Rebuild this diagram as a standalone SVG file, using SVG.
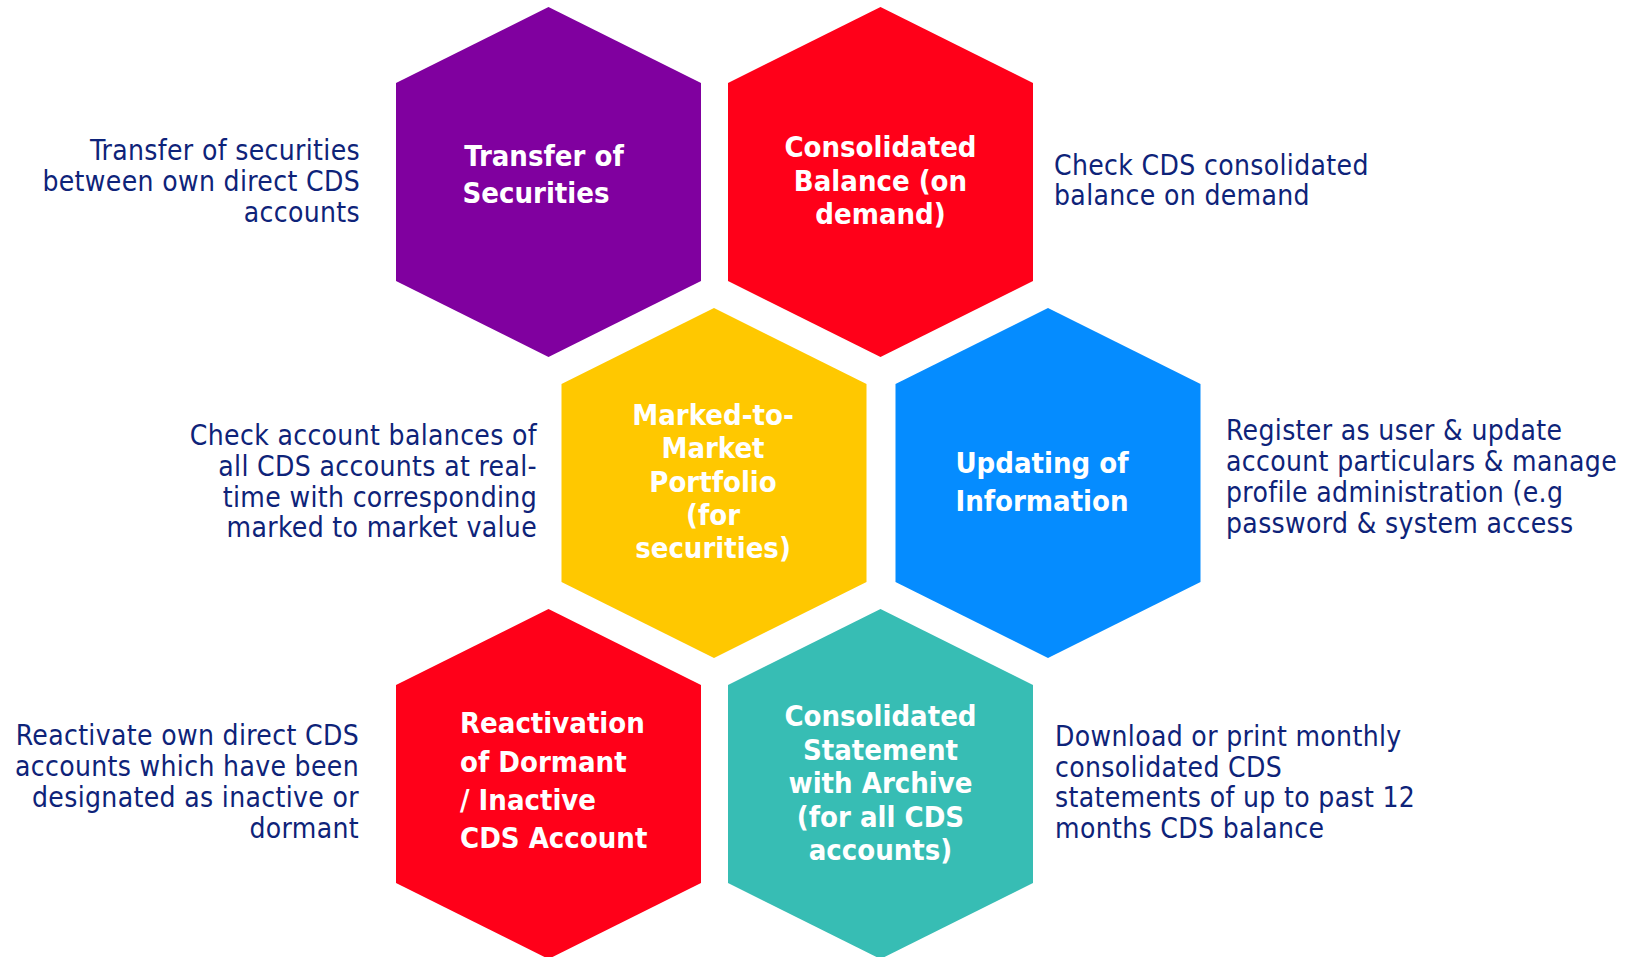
<svg xmlns="http://www.w3.org/2000/svg" xmlns:xlink="http://www.w3.org/1999/xlink" width="1632" height="957" viewBox="0 0 1632 957">
<style>
.desc{font-family:'DejaVu Sans Condensed','DejaVu Sans',sans-serif;font-stretch:condensed;font-size:28px;letter-spacing:0.35px;fill:#0E2379;}
.r{text-anchor:end;}
.hl{font-family:'DejaVu Sans Condensed','DejaVu Sans',sans-serif;font-stretch:condensed;font-weight:bold;font-size:29px;fill:#FFFFFF;text-anchor:middle;}
.hl.left{text-anchor:start;}
</style>
<defs>
<polygon id="hex" points="0,-175 152.5,-99 152.5,99 0,175 -152.5,99 -152.5,-99"/>
</defs>
<rect width="1632" height="957" fill="#FFFFFF"/>

<g id="transfer">
<use xlink:href="#hex" href="#hex" x="548.5" y="182" fill="#80009F"/>
<text class="hl"><tspan x="544" y="166">Transfer of</tspan><tspan x="536" y="203">Securities</tspan></text>
</g>

<g id="consolidated-balance">
<use xlink:href="#hex" href="#hex" x="880.5" y="182" fill="#FF0019"/>
<text class="hl"><tspan x="880.5" y="157">Consolidated</tspan><tspan x="880.5" y="191">Balance (on</tspan><tspan x="880.5" y="224">demand)</tspan></text>
</g>

<g id="marked-to-market">
<use xlink:href="#hex" href="#hex" x="714" y="483" fill="#FFC800"/>
<text class="hl"><tspan x="713" y="425">Marked-to-</tspan><tspan x="713" y="458">Market</tspan><tspan x="713" y="492">Portfolio</tspan><tspan x="713" y="525">(for</tspan><tspan x="713" y="558">securities)</tspan></text>
</g>

<g id="updating-information">
<use xlink:href="#hex" href="#hex" x="1048" y="483" fill="#058CFF"/>
<text class="hl"><tspan x="1042" y="473">Updating of</tspan><tspan x="1042" y="511">Information</tspan></text>
</g>

<g id="reactivation">
<use xlink:href="#hex" href="#hex" x="548.5" y="784" fill="#FF0019"/>
<text class="hl left"><tspan x="460" y="733">Reactivation</tspan><tspan x="460" y="772">of Dormant</tspan><tspan x="460" y="810">/ Inactive</tspan><tspan x="460" y="848">CDS Account</tspan></text>
</g>

<g id="consolidated-statement">
<use xlink:href="#hex" href="#hex" x="880.5" y="784" fill="#37BDB4"/>
<text class="hl"><tspan x="880.5" y="726">Consolidated</tspan><tspan x="880.5" y="760">Statement</tspan><tspan x="880.5" y="793">with Archive</tspan><tspan x="880.5" y="827">(for all CDS</tspan><tspan x="880.5" y="860">accounts)</tspan></text>
</g>

<g id="desc-transfer">
<text class="desc r"><tspan x="360" y="160">Transfer of securities</tspan><tspan x="360" y="191">between own direct CDS</tspan><tspan x="360" y="222">accounts</tspan></text>
</g>

<g id="desc-balance">
<text class="desc"><tspan x="1054" y="175">Check CDS consolidated</tspan><tspan x="1054" y="205">balance on demand</tspan></text>
</g>

<g id="desc-mtm">
<text class="desc r"><tspan x="537" y="445">Check account balances of</tspan><tspan x="537" y="476">all CDS accounts at real-</tspan><tspan x="537" y="507">time with corresponding</tspan><tspan x="537" y="537">marked to market value</tspan></text>
</g>

<g id="desc-updating">
<text class="desc"><tspan x="1226" y="440">Register as user &amp; update</tspan><tspan x="1226" y="471">account particulars &amp; manage</tspan><tspan x="1226" y="502">profile administration (e.g</tspan><tspan x="1226" y="533">password &amp; system access</tspan></text>
</g>

<g id="desc-reactivation">
<text class="desc r"><tspan x="359" y="745">Reactivate own direct CDS</tspan><tspan x="359" y="776">accounts which have been</tspan><tspan x="359" y="807">designated as inactive or</tspan><tspan x="359" y="838">dormant</tspan></text>
</g>

<g id="desc-statement">
<text class="desc"><tspan x="1055" y="746">Download or print monthly</tspan><tspan x="1055" y="777">consolidated CDS</tspan><tspan x="1055" y="807">statements of up to past 12</tspan><tspan x="1055" y="838">months CDS balance</tspan></text>
</g>
</svg>
